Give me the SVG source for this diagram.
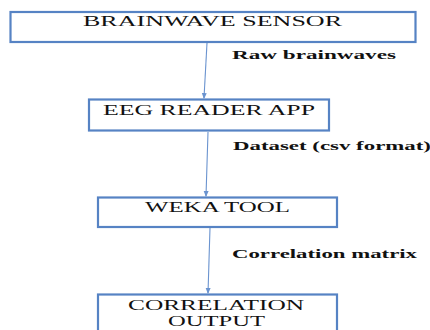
<svg xmlns="http://www.w3.org/2000/svg" width="430" height="330" viewBox="0 0 430 330">
<style>
.box{fill:#fff;stroke:#5683c4;stroke-width:2.2}
.t{font-family:"Liberation Serif","Times New Roman",serif;font-size:15px;fill:#111}
.l{font-family:"Liberation Serif","Times New Roman",serif;font-size:12px;font-weight:bold;fill:#111}
.c{fill:none;stroke:#6a93cf;stroke-width:1.1}
</style>
<defs>
<marker id="ah" viewBox="0 0 6 6" refX="5" refY="3" markerWidth="6" markerHeight="6" markerUnits="userSpaceOnUse" orient="auto">
<path d="M0,0.5 L6,3 L0,5.5 z" fill="#6a93cf"/>
</marker>
</defs>
<rect width="430" height="330" fill="#fff"/>
<g id="connectors">
<line class="c" x1="207" y1="43" x2="204" y2="98" marker-end="url(#ah)"/>
<line class="c" x1="208" y1="132" x2="206" y2="196" marker-end="url(#ah)"/>
<line class="c" x1="210" y1="228" x2="208" y2="293" marker-end="url(#ah)"/>
<text class="l" x="232" y="59" textLength="164" lengthAdjust="spacingAndGlyphs">Raw brainwaves</text>
<text class="l" x="233" y="150" textLength="198" lengthAdjust="spacingAndGlyphs">Dataset (csv format)</text>
<text class="l" x="232" y="258" textLength="185" lengthAdjust="spacingAndGlyphs">Correlation matrix</text>
</g>
<g id="brainwave-sensor">
<rect class="box" x="10.5" y="12" width="405" height="30"/>
<text class="t" x="83" y="26" textLength="259" lengthAdjust="spacingAndGlyphs">BRAINWAVE SENSOR</text>
</g>
<g id="eeg-reader-app">
<rect class="box" x="89" y="99.5" width="240" height="31"/>
<text class="t" x="103" y="115" textLength="212" lengthAdjust="spacingAndGlyphs">EEG READER APP</text>
</g>
<g id="weka-tool">
<rect class="box" x="98" y="197.5" width="239" height="29.5"/>
<text class="t" x="145" y="212" textLength="145" lengthAdjust="spacingAndGlyphs">WEKA TOOL</text>
</g>
<g id="correlation-output">
<rect class="box" x="98" y="294.5" width="239" height="50"/>
<text class="t" x="128" y="310" textLength="176" lengthAdjust="spacingAndGlyphs">CORRELATION</text>
<text class="t" x="168" y="326" textLength="97" lengthAdjust="spacingAndGlyphs">OUTPUT</text>
</g>
</svg>
